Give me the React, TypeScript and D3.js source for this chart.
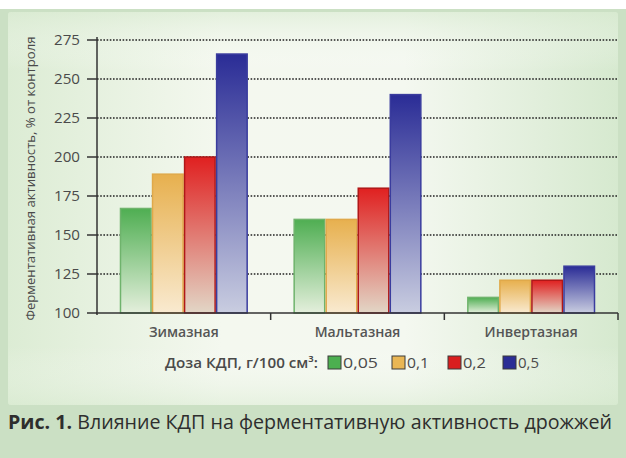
import React from "react";
import * as d3 from "d3";

const categories = ["Зимазная", "Мальтазная", "Инвертазная"];
const doses = ["0,05", "0,1", "0,2", "0,5"];
const dose005 = [167, 160, 110];
const dose01 = [189, 160, 121];
const dose02 = [200, 180, 121];
const dose05 = [266, 240, 130];
const yTicks = [100, 125, 150, 175, 200, 225, 250, 275];
const yTitle = "Ферментативная активность, % от контроля";
const legendTitle = "Доза КДП, г/100 см³:";
const captionBold = "Рис. 1.";
const captionText = " Влияние КДП на ферментативную активность дрожжей";

const series = [dose005, dose01, dose02, dose05];
const colors = [
  { top: "#4fae52", bottom: "#e4efdc", stroke: "#6fb36c", swatch: "#4caf50" },
  { top: "#e7b04e", bottom: "#f9ead0", stroke: "#e0a94a", swatch: "#e9b654" },
  { top: "#e02020", bottom: "#e2d6c6", stroke: "#b01818", swatch: "#d91e1e" },
  { top: "#2a2c96", bottom: "#c9cde0", stroke: "#3a3c9e", swatch: "#2b2d95" },
];

const W = 626;
const H = 458;
const x0 = 97;
const x1 = 618;
const yTop = 40;
const yBottom = 313;

export default function App() {
  const y = d3.scaleLinear().domain([100, 275]).range([yBottom, yTop]);
  const xCat = d3.scaleBand<string>().domain(categories).range([x0, x1]).padding(0);
  const xDose = d3
    .scaleBand<string>()
    .domain(doses)
    .range([0, xCat.bandwidth()])
    .paddingInner(0)
    .paddingOuter(0.71);
  const font = "'Open Sans', 'Noto Sans', sans-serif";
  const textCol = "#4a4a4a";
  const legendX = [328, 392, 448, 503];
  const legendW = [35, 22, 23, 21];

  return (
    <svg
      width={W}
      height={H}
      style={{ position: "absolute", left: 0, top: 0 }}
      fontFamily={font}
    >
      <defs>
        <linearGradient id="panel" x1="0" y1="0" x2="1" y2="0">
          <stop offset="0" stopColor="#dcecd4" />
          <stop offset="0.35" stopColor="#f4f8ef" />
          <stop offset="0.65" stopColor="#f4f8f0" />
          <stop offset="1" stopColor="#d6e9cf" />
        </linearGradient>
        <linearGradient id="panelV" x1="0" y1="0" x2="0" y2="1">
          <stop offset="0" stopColor="#d8ead0" stopOpacity="0.6" />
          <stop offset="0.15" stopColor="#ffffff" stopOpacity="0" />
          <stop offset="0.85" stopColor="#ffffff" stopOpacity="0" />
          <stop offset="1" stopColor="#d8ead0" stopOpacity="0.5" />
        </linearGradient>
        {colors.map((c, i) => (
          <linearGradient key={i} id={`bar${i}`} x1="0" y1="0" x2="0" y2="1">
            <stop offset="0" stopColor={c.top} />
            <stop offset="1" stopColor={c.bottom} />
          </linearGradient>
        ))}
      </defs>
      <rect x={0} y={0} width={W} height={H} fill="#ffffff" />
      <rect x={0} y={9} width={W} height={H - 9} fill="#cbe0c4" />
      <rect x={8} y={12} width={610} height={393} rx={3} fill="url(#panel)" />
      <rect x={8} y={12} width={610} height={393} rx={3} fill="url(#panelV)" />

      {/* grid */}
      {yTicks.slice(1).map((t) => (
        <line
          key={t}
          x1={x0}
          x2={x1}
          y1={y(t)}
          y2={y(t)}
          stroke="#222"
          strokeWidth={1.5}
          strokeDasharray="1.6,1.6"
        />
      ))}

      {/* bars */}
      {categories.map((cat, ci) => (
        <g key={cat} transform={`translate(${xCat(cat)},0)`}>
          {series.map((s, si) => (
            <rect
              key={si}
              x={xDose(doses[si])! + 0.75}
              y={y(s[ci])}
              width={xDose.bandwidth() - 1.5}
              height={yBottom - y(s[ci])}
              fill={`url(#bar${si})`}
              stroke={colors[si].stroke}
              strokeWidth={1.5}
            />
          ))}
        </g>
      ))}

      {/* axes */}
      <line x1={x0} x2={x0} y1={yTop - 3} y2={yBottom + 2} stroke="#333" strokeWidth={1.5} />
      <line x1={x0 - 1} x2={x1} y1={yBottom} y2={yBottom} stroke="#333" strokeWidth={1.5} />
      {yTicks.map((t) => (
        <g key={t}>
          <line x1={x0 - 10} x2={x0} y1={y(t)} y2={y(t)} stroke="#333" strokeWidth={1.5} />
          <text
            x={80}
            y={y(t)}
            dy="0.35em"
            textAnchor="end"
            fontSize={14.5}
            fill={textCol}
            textLength={26}
            lengthAdjust="spacingAndGlyphs"
          >
            {t}
          </text>
        </g>
      ))}
      {categories.map((cat) => (
        <line
          key={cat}
          x1={xCat(cat)! + xCat.bandwidth()}
          x2={xCat(cat)! + xCat.bandwidth()}
          y1={yBottom}
          y2={yBottom + 7}
          stroke="#333"
          strokeWidth={1.5}
        />
      ))}
      {categories.map((cat) => (
        <text
          key={cat}
          x={xCat(cat)! + xCat.bandwidth() / 2}
          y={332}
          dy="0.35em"
          textAnchor="middle"
          fontSize={14}
          fontWeight={600}
          fill="#555"
        >
          {cat}
        </text>
      ))}

      <text
        transform={`translate(31,${(yTop + yBottom) / 2 + 2}) rotate(-90)`}
        textAnchor="middle"
        dy="0.35em"
        fontSize={12.5}
        fill={textCol}
        textLength={284}
        lengthAdjust="spacingAndGlyphs"
      >
        {yTitle}
      </text>

      {/* legend */}
      <text
        x={165}
        y={363}
        dy="0.35em"
        fontSize={14.5}
        fontWeight={600}
        fill={textCol}
        textLength={153}
        lengthAdjust="spacingAndGlyphs"
      >
        {legendTitle}
      </text>
      {doses.map((d, i) => {
        const lx = legendX[i];
        return (
          <g key={d}>
            <rect
              x={lx}
              y={356}
              width={13}
              height={13}
              fill={colors[i].swatch}
              stroke="#3a3a3a"
              strokeWidth={1}
            />
            <text
              x={lx + 15}
              y={363}
              dy="0.35em"
              fontSize={14.5}
              fill={textCol}
              textLength={legendW[i]}
              lengthAdjust="spacingAndGlyphs"
            >
              {d}
            </text>
          </g>
        );
      })}

      {/* caption */}
      <text
        x={8}
        y={429}
        fontSize={20}
        fill="#2e2e2e"
        textLength={604}
        lengthAdjust="spacingAndGlyphs"
      >
        <tspan fontWeight={700}>{captionBold}</tspan>
        <tspan>{captionText}</tspan>
      </text>
    </svg>
  );
}
